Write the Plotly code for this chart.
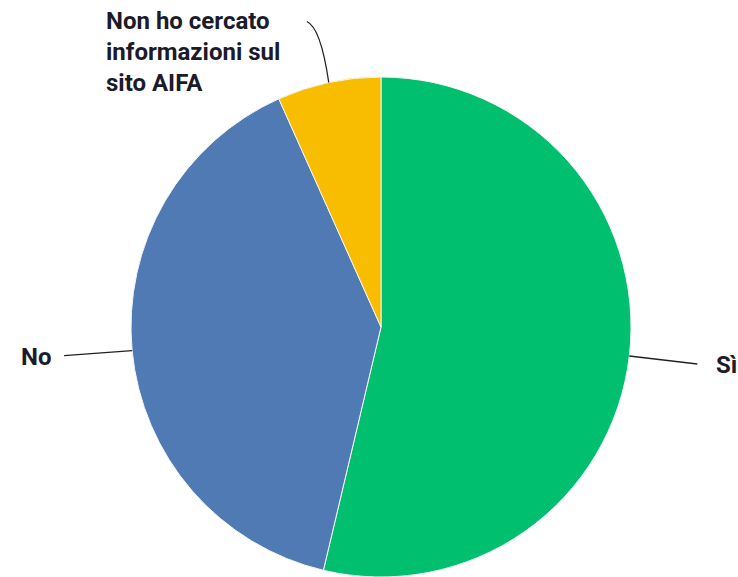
import math
import plotly.graph_objects as go

# Survey answers: did the respondent find information on the AIFA website?
labels = ["Sì", "No", "Non ho cercato<br>informazioni sul<br>sito AIFA"]
values = [53.7, 39.6, 6.7]
colors = ["#00BF6F", "#4F7AB4", "#F9BD00"]

W, H = 738, 577
R = 250  # pie radius in px
CX, CY = 381, 327  # pie centre in px (from top-left)

fig = go.Figure(
    go.Pie(
        labels=labels,
        values=values,
        sort=False,
        direction="clockwise",
        rotation=0,
        marker=dict(colors=colors, line=dict(color="#f4f4f4", width=1)),
        textinfo="none",
        hoverinfo="label+percent",
        showlegend=False,
        domain=dict(x=[(CX - R) / W, (CX + R) / W], y=[(H - CY - R) / H, (H - CY + R) / H]),
    )
)


def px_to_paper(x, y):
    return x / W, 1 - y / H


# mid-angle of each slice, clockwise from 12 o'clock
total = sum(values)
mids = []
acc = 0.0
for v in values:
    mids.append((acc + v / 2) / total * 2 * math.pi)
    acc += v

tips = [(CX + R * math.sin(a), CY - R * math.cos(a)) for a in mids]

font = dict(family="Roboto, Arial, sans-serif", size=24, color="#1b1b2a", weight="bold")
line_style = dict(color="#222222", width=1.3)

shapes = []
annotations = []

# Sì: leader to the right
tx, ty = tips[0]
x0, y0 = px_to_paper(tx, ty)
x1, y1 = px_to_paper(tx + 68, ty + 8)
shapes.append(dict(type="line", xref="paper", yref="paper", x0=x0, y0=y0, x1=x1, y1=y1, line=line_style))
ax, ay = px_to_paper(tx + 85, ty + 9)
annotations.append(dict(text=labels[0], x=ax, y=ay, xref="paper", yref="paper",
                        xanchor="left", yanchor="middle", showarrow=False, font=font))

# No: leader to the left
tx, ty = tips[1]
x0, y0 = px_to_paper(tx, ty)
x1, y1 = px_to_paper(tx - 68, ty + 5)
shapes.append(dict(type="line", xref="paper", yref="paper", x0=x0, y0=y0, x1=x1, y1=y1, line=line_style))
ax, ay = px_to_paper(tx - 79, ty + 6)
annotations.append(dict(text=labels[1], x=ax, y=ay, xref="paper", yref="paper",
                        xanchor="right", yanchor="middle", showarrow=False, font=font))

# Third slice: curved leader going up
tx, ty = tips[2]
p0 = px_to_paper(tx, ty)
pc = px_to_paper(tx - 8, ty - 55)
p1 = px_to_paper(tx - 22, ty - 61)
shapes.append(dict(type="path", xref="paper", yref="paper",
                   path=f"M {p0[0]},{p0[1]} Q {pc[0]},{pc[1]} {p1[0]},{p1[1]}", line=line_style))
ax, ay = px_to_paper(tx - 225, ty - 31)
annotations.append(dict(text=labels[2], x=ax, y=ay, xref="paper", yref="paper",
                        xanchor="left", yanchor="middle", align="left", showarrow=False, font=font))

fig.update_layout(
    width=W,
    height=H,
    margin=dict(l=0, r=0, t=0, b=0),
    paper_bgcolor="white",
    plot_bgcolor="white",
    shapes=shapes,
    annotations=annotations,
)

fig.write_html("out.html")
